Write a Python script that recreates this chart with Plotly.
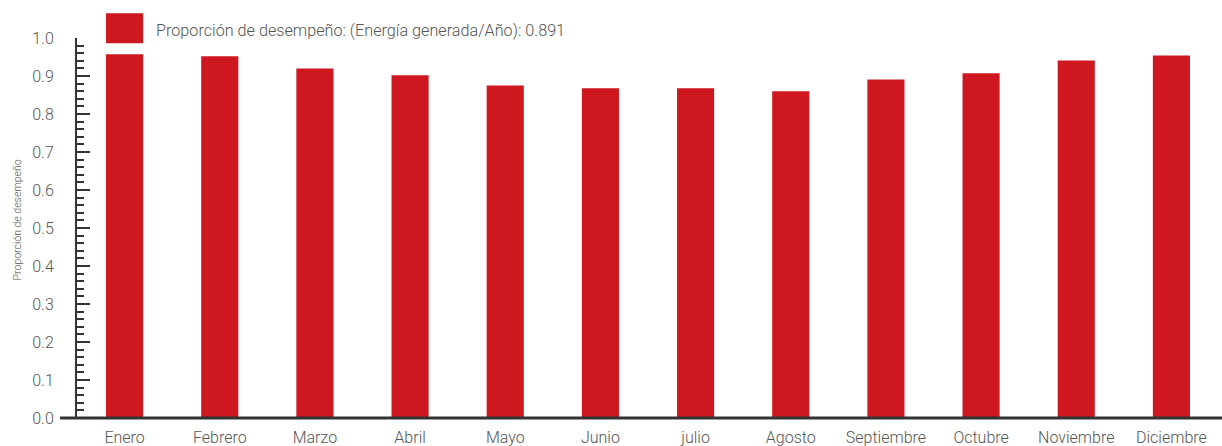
import plotly.graph_objects as go

months = ["Enero", "Febrero", "Marzo", "Abril", "Mayo", "Junio", "julio",
          "Agosto", "Septiembre", "Octubre", "Noviembre", "Diciembre"]
performance_ratio = [0.957, 0.952, 0.920, 0.902, 0.875, 0.868, 0.868,
                     0.860, 0.891, 0.907, 0.941, 0.954]
annual_ratio = 0.891
y_ticks = [0.0, 0.1, 0.2, 0.3, 0.4, 0.5, 0.6, 0.7, 0.8, 0.9, 1.0]

RED = "#CF1720"
AXIS = "#333333"
TEXT = "#555555"
FONT = "Roboto"
FS = 16
BAR_W = 0.39

fig = go.Figure(
    go.Bar(
        x=list(range(len(months))),
        y=performance_ratio,
        marker=dict(color=RED, line=dict(width=0)),
        width=BAR_W,
        showlegend=False,
    )
)

fig.update_layout(
    width=1222,
    height=446,
    margin=dict(l=77, r=3, t=38, b=28),
    paper_bgcolor="white",
    plot_bgcolor="white",
    font=dict(family=FONT, color=TEXT, size=FS, weight=300),
    xaxis=dict(
        range=[-0.5, len(months) - 0.5],
        tickmode="array",
        tickvals=list(range(len(months))),
        ticktext=months,
        showline=False,
        showgrid=False,
        zeroline=False,
        ticks="",
        ticklabelstandoff=8,
        automargin=False,
        tickfont=dict(family=FONT, size=FS, color=TEXT, weight=300),
        fixedrange=True,
    ),
    yaxis=dict(
        range=[0, 1],
        tickmode="array",
        tickvals=y_ticks,
        ticktext=[f"{v:.1f}" for v in y_ticks],
        showline=True,
        linecolor=AXIS,
        linewidth=2,
        showgrid=False,
        zeroline=False,
        ticks="inside",
        ticklen=13,
        tickwidth=2,
        tickcolor=AXIS,
        minor=dict(ticks="inside", ticklen=7, tickwidth=1.5,
                   tickcolor=AXIS, dtick=0.02, showgrid=False),
        ticklabelstandoff=18,
        automargin=False,
        tickfont=dict(family=FONT, size=FS, color=TEXT, weight=300),
        fixedrange=True,
    ),
)

# baseline extending left of the value axis
fig.add_shape(type="line", xref="paper", yref="paper",
              x0=-0.0149, x1=1.01, y0=0, y1=0,
              line=dict(color=AXIS, width=3), layer="above")

# legend swatch, aligned with the first bar
fig.add_shape(type="rect", xref="x", yref="paper",
              x0=-BAR_W / 2, x1=BAR_W / 2, y0=0.986, y1=1.065,
              fillcolor=RED, line=dict(width=0), layer="above")
fig.add_annotation(
    xref="paper", yref="paper", x=(154 - 77) / 1142, y=1.020,
    xanchor="left", yanchor="middle", showarrow=False,
    text=f"Proporción de desempeño: (Energía generada/Año): {annual_ratio}",
    font=dict(family=FONT, size=16.2, color=TEXT, weight=300),
)

# vertical axis title
fig.add_annotation(
    xref="paper", yref="paper", x=(17 - 77) / 1142, y=0.52,
    xanchor="center", yanchor="middle", showarrow=False, textangle=-90,
    text="Proporción de desempeño",
    font=dict(family=FONT, size=10.5, color=TEXT, weight=300),
)

fig.write_html("out.html")
